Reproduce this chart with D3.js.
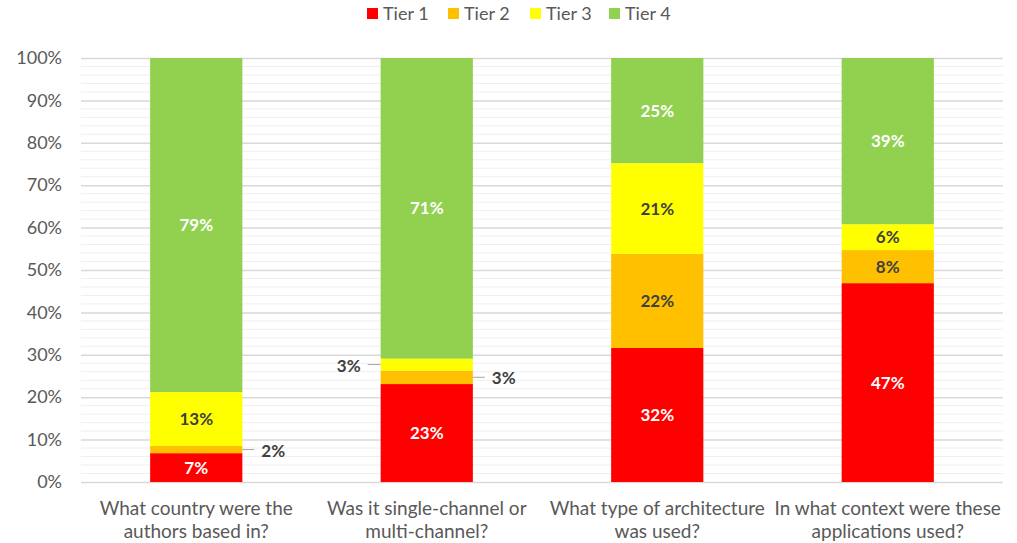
<!DOCTYPE html>
<html><head><meta charset="utf-8">
<script src="https://cdn.jsdelivr.net/npm/d3@7/dist/d3.min.js"></script>
<style>body{margin:0;background:#fff;} svg{display:block;}</style>
</head><body>
<svg id="chart" width="1017" height="543"></svg>
<script>
const categories = [
  ["What country were the", "authors based in?"],
  ["Was it single-channel or", "multi-channel?"],
  ["What type of architecture", "was used?"],
  ["In what context were these", "applications used?"]
];
const seriesNames = ["Tier 1", "Tier 2", "Tier 3", "Tier 4"];
const tier1 = [6.8, 23.1, 31.6, 46.9];
const tier2 = [1.7, 3.2, 22.2, 7.8];
const tier3 = [12.7, 2.8, 21.4, 6.1];
const tier4 = [78.8, 70.9, 24.8, 39.2];
const yTicks = [0, 10, 20, 30, 40, 50, 60, 70, 80, 90, 100];
// labels placed outside bars: [category index, series index, side]
const outsideLabels = [[0, 1, "right"], [1, 1, "right"], [1, 2, "left"]];

const colors = ["#ff0000", "#ffc000", "#ffff00", "#92d050"];
const labelColors = ["#ffffff", "#404040", "#404040", "#ffffff"];
const font = "Lato, 'Open Sans', sans-serif";

const svg = d3.select("#chart");
const margin = {left: 81, right: 14, top: 58, bottom: 61};
const W = 1017, H = 543;
const x = d3.scaleBand().domain(d3.range(categories.length)).range([margin.left, W - margin.right]).paddingInner(0.6).paddingOuter(0.3);
const y = d3.scaleLinear().domain([0, 100]).range([H - margin.bottom, margin.top]);

// minor gridlines
const minor = d3.range(0, 101, 2).filter(v => v % 10 !== 0);
svg.append("g").selectAll("line").data(minor).join("line")
  .attr("x1", margin.left).attr("x2", W - margin.right)
  .attr("y1", d => y(d)).attr("y2", d => y(d))
  .attr("stroke", "#efefef").attr("stroke-width", 1);

// y axis with major gridlines
const yAxis = svg.append("g").attr("transform", `translate(${margin.left},0)`)
  .call(d3.axisLeft(y).tickValues(yTicks).tickFormat(d => d + "%").tickSize(-(W - margin.left - margin.right)).tickPadding(19));
yAxis.select(".domain").remove();
yAxis.selectAll(".tick line").attr("stroke", "#d9d9d9").attr("stroke-width", 1.5);
yAxis.selectAll(".tick text").attr("fill", "#595959").style("font-family", font).style("font-size", "18px");

// stacked data
const rows = categories.map((c, i) => ({i, v: [tier1[i], tier2[i], tier3[i], tier4[i]]}));
const stack = d3.stack().keys([0, 1, 2, 3]).value((d, k) => d.v[k]);
const stacked = stack(rows);

const bw = x.bandwidth();
stacked.forEach((layer, k) => {
  svg.append("g").selectAll("rect").data(layer).join("rect")
    .attr("x", d => x(d.data.i)).attr("width", bw)
    .attr("y", d => y(d[1])).attr("height", d => y(d[0]) - y(d[1]))
    .attr("fill", colors[k]);
});

const isOutside = (i, k) => outsideLabels.some(o => o[0] === i && o[1] === k);
stacked.forEach((layer, k) => {
  svg.append("g").selectAll("text").data(layer.filter(d => !isOutside(d.data.i, k))).join("text")
    .attr("x", d => x(d.data.i) + bw / 2)
    .attr("y", d => (y(d[0]) + y(d[1])) / 2)
    .attr("dy", "0.36em").attr("text-anchor", "middle")
    .attr("fill", labelColors[k]).style("font-family", font).style("font-size", "17px").style("font-weight", "bold")
    .text(d => Math.round(d.data.v[k]) + "%");
});

// outside labels with leader lines
outsideLabels.forEach(([i, k, side]) => {
  const d = stacked[k][i];
  const yc = (y(d[0]) + y(d[1])) / 2;
  const x0 = side === "right" ? x(i) + bw : x(i);
  const x1 = side === "right" ? x0 + 12 : x0 - 13;
  svg.append("line").attr("x1", x0).attr("x2", x1).attr("y1", yc).attr("y2", yc)
    .attr("stroke", "#a6a6a6").attr("stroke-width", 1);
  svg.append("text")
    .attr("x", side === "right" ? x1 + 7 : x1 - 7).attr("y", yc + 1).attr("dy", "0.36em")
    .attr("text-anchor", side === "right" ? "start" : "end")
    .attr("fill", "#404040").style("font-family", font).style("font-size", "17px").style("font-weight", "bold")
    .text(Math.round(d.data.v[k]) + "%");
});

// x axis labels
const xg = svg.append("g");
categories.forEach((lines, i) => {
  const t = xg.append("text").attr("x", x(i) + bw / 2).attr("y", 515)
    .attr("text-anchor", "middle").attr("fill", "#595959")
    .style("font-family", font).style("font-size", "19px");
  lines.forEach((ln, j) => t.append("tspan").attr("x", x(i) + bw / 2).attr("dy", j === 0 ? 0 : 23).text(ln));
});

// legend
const legend = svg.append("g");
const legendX = [367, 448, 530, 609];
seriesNames.forEach((n, k) => {
  const g = legend.append("g").attr("transform", `translate(${legendX[k]},0)`);
  g.append("rect").attr("x", 0).attr("y", 8).attr("width", 11).attr("height", 11).attr("fill", colors[k]);
  g.append("text").attr("x", 16).attr("y", 14).attr("dy", "0.36em").attr("fill", "#595959")
    .style("font-family", font).style("font-size", "18px").text(n);
});
</script>
</body></html>
